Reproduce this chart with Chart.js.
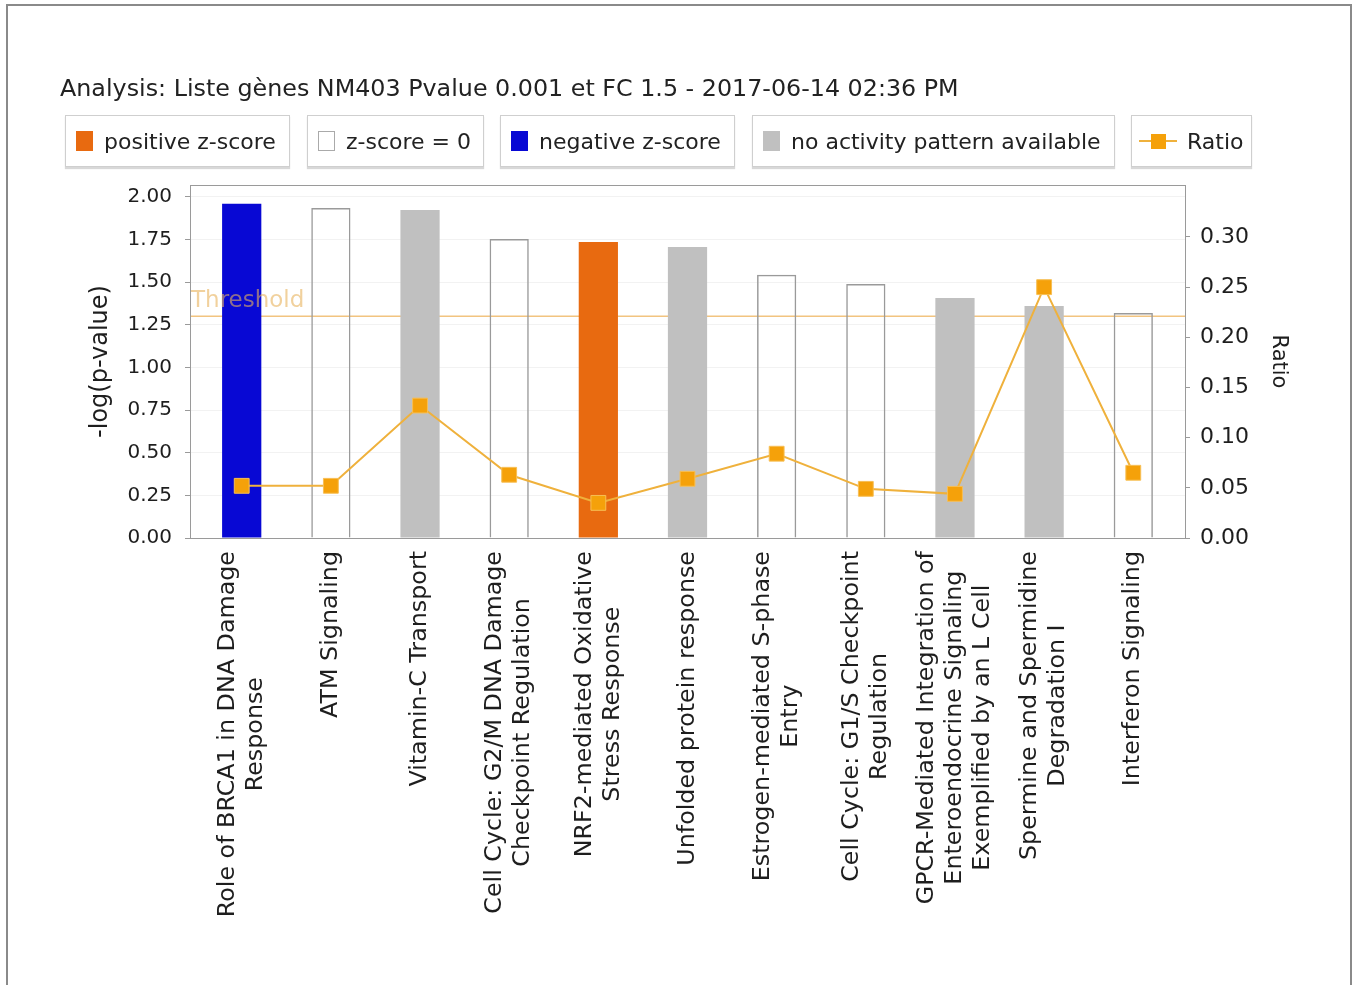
<!DOCTYPE html>
<html><head><meta charset="utf-8">
<script src="https://cdn.jsdelivr.net/npm/chart.js@4.4.1/dist/chart.umd.min.js"></script>
<style>
html,body{margin:0;padding:0;background:#fff;}
#wrap{position:relative;width:1359px;height:985px;overflow:hidden;font-family:"DejaVu Sans",sans-serif;color:#222;}
#frame{position:absolute;left:6px;top:4px;width:1346px;height:1010px;border:2px solid #8a8a8a;box-sizing:border-box;}
#c{position:absolute;left:0;top:0;}
#title{position:absolute;left:60px;top:75px;font-size:23.8px;white-space:nowrap;line-height:26px;}
.lg{position:absolute;top:115px;height:52px;border:1px solid #cfcfcf;box-shadow:0 2px 1px #d8d8d8;box-sizing:border-box;display:flex;align-items:center;font-size:22px;white-space:nowrap;background:#fff;}
.sw{display:inline-block;width:17px;height:20px;margin-left:10px;margin-right:11px;box-sizing:border-box;}
.ri{position:relative;display:inline-block;width:38px;height:20px;margin-left:7px;margin-right:10px;}
.ri .ln{position:absolute;left:0;top:9px;width:38px;height:2px;background:#efb13c;}
.ri .sq{position:absolute;left:12px;top:3px;width:15px;height:15px;background:#f5a10a;}
</style></head>
<body>
<div id="wrap">
<div id="frame"></div>
<canvas id="c" width="1359" height="985"></canvas>
<div id="title">Analysis: Liste gènes NM403 Pvalue 0.001 et FC 1.5 - 2017-06-14 02:36 PM</div>
<div class="lg" style="left:65px;width:225px"><span class="sw" style="background:#e86a10"></span>positive z-score</div>
<div class="lg" style="left:307px;width:177px"><span class="sw" style="background:#fff;border:1px solid #aaa"></span>z-score = 0</div>
<div class="lg" style="left:500px;width:235px"><span class="sw" style="background:#0808d4"></span>negative z-score</div>
<div class="lg" style="left:752px;width:363px"><span class="sw" style="background:#c0c0c0"></span>no activity pattern available</div>
<div class="lg" style="left:1131px;width:121px"><span class="ri"><span class="ln"></span><span class="sq"></span></span>Ratio</div>
</div>
<script>
// ---- data ----
const categories = [
  ["Role of BRCA1 in DNA Damage","Response"],
  ["ATM Signaling"],
  ["Vitamin-C Transport"],
  ["Cell Cycle: G2/M DNA Damage","Checkpoint Regulation"],
  ["NRF2-mediated Oxidative","Stress Response"],
  ["Unfolded protein response"],
  ["Estrogen-mediated S-phase","Entry"],
  ["Cell Cycle: G1/S Checkpoint","Regulation"],
  ["GPCR-Mediated Integration of","Enteroendocrine Signaling","Exemplified by an L Cell"],
  ["Spermine and Spermidine","Degradation I"],
  ["Interferon Signaling"]
];
const negLogP = [1.96, 1.935, 1.924, 1.754, 1.736, 1.707, 1.543, 1.49, 1.408, 1.36, 1.32];
const ratio = [0.052, 0.052, 0.132, 0.063, 0.035, 0.059, 0.084, 0.049, 0.044, 0.250, 0.065];
const zScoreClass = ["neg","zero","na","zero","pos","na","zero","zero","na","na","zero"];
const threshold = 1.3;
const leftTicks = [0,0.25,0.5,0.75,1,1.25,1.5,1.75,2];
const rightTicks = [0,0.05,0.1,0.15,0.2,0.25,0.3];

const fillFor = {pos:"#e86a10", neg:"#0808d4", na:"#c0c0c0", zero:"rgba(255,255,255,0)"};
const borderFor = {pos:"#e86a10", neg:"#3a3ae0", na:"#c0c0c0", zero:"#9a9a9a"};

const FONT = "'DejaVu Sans', sans-serif";

const thresholdPlugin = {
  id: 'thresholdLine',
  beforeDatasetsDraw(chart) {
    const {ctx, chartArea: a, scales: {y}} = chart;
    const py = y.getPixelForValue(threshold);
    ctx.save();
    ctx.strokeStyle = '#f2c480';
    ctx.lineWidth = 1.5;
    ctx.beginPath(); ctx.moveTo(a.left, py); ctx.lineTo(a.right, py); ctx.stroke();
    ctx.restore();
  },
  afterDatasetsDraw(chart) {
    const {ctx, chartArea: a, scales: {y}} = chart;
    const py = y.getPixelForValue(threshold);
    ctx.save();
    ctx.fillStyle = 'rgba(232,178,92,0.6)';
    ctx.font = "23px " + FONT;
    ctx.textAlign = 'left'; ctx.textBaseline = 'alphabetic';
    ctx.fillText('Threshold', a.left + 1, py - 9);
    ctx.restore();
  },
  afterDraw(chart) {
    const {ctx, chartArea: a, scales: {x}} = chart;
    ctx.save();
    ctx.strokeStyle = '#9a9a9a'; ctx.lineWidth = 1;
    ctx.strokeRect(a.left + 0.5, a.top + 0.5, a.right - a.left, a.bottom - a.top);
    // category labels, centred multi-line blocks rotated -90deg
    ctx.font = "23.8px " + FONT;
    ctx.fillStyle = '#1e1e1e';
    ctx.textAlign = 'center'; ctx.textBaseline = 'middle';
    const top = a.bottom + 13, lh = 28;
    categories.forEach((lines, i) => {
      const cx = x.getPixelForValue(i);
      const maxW = Math.max(...lines.map(l => ctx.measureText(l).width));
      ctx.save();
      ctx.translate(cx, top);
      ctx.rotate(-Math.PI / 2);
      lines.forEach((l, j) => {
        ctx.fillText(l, -maxW / 2, (j - (lines.length - 1) / 2) * lh);
      });
      ctx.restore();
    });
    ctx.restore();
  }
};

new Chart(document.getElementById('c'), {
  type: 'bar',
  data: {
    datasets: [
      {
        type: 'line',
        label: 'Ratio',
        data: ratio.map((v, i) => ({x: i, y: v})),
        yAxisID: 'y1',
        order: 1,
        borderColor: '#efb13c',
        borderWidth: 2,
        pointStyle: 'rect',
        pointRadius: 10.5,
        pointBackgroundColor: '#f5a10a',
        pointBorderColor: '#f7bf55',
        pointBorderWidth: 1,
        tension: 0
      },
      {
        type: 'bar',
        label: '-log(p-value)',
        data: negLogP.map((v, i) => ({x: i, y: v})),
        yAxisID: 'y',
        order: 2,
        backgroundColor: zScoreClass.map(c => fillFor[c]),
        borderColor: zScoreClass.map(c => borderFor[c]),
        borderWidth: zScoreClass.map(c => c === 'zero' ? 1.5 : 0),
        barPercentage: 0.44,
        categoryPercentage: 1.0
      }
    ]
  },
  options: {
    responsive: false,
    animation: false,
    layout: {padding: {left: 82, right: 64, top: 185, bottom: 0}},
    plugins: {legend: {display: false}, tooltip: {enabled: false}, title: {display: false}},
    scales: {
      x: {
        type: 'linear', min: -0.58, max: 10.58, offset: false,
        ticks: {display: false},
        grid: {display: false},
        border: {display: true, color: '#9a9a9a'},
        afterFit(s) { s.height = 447; }
      },
      y: {
        position: 'left', min: 0, max: 2.07,
        afterBuildTicks(s) { s.ticks = leftTicks.map(v => ({value: v})); },
        ticks: {callback: v => v.toFixed(2), font: {family: FONT, size: 20}, color: '#1e1e1e', padding: 13},
        grid: {color: 'rgba(0,0,0,0.05)', tickColor: '#9a9a9a', tickLength: 5},
        border: {color: '#9a9a9a'},
        title: {display: true, text: '-log(p-value)', font: {family: FONT, size: 24}, color: '#1e1e1e', padding: {top: 4, bottom: 4}},
        afterFit(s) { s.width = 108; }
      },
      y1: {
        position: 'right', min: 0, max: 0.3518,
        afterBuildTicks(s) { s.ticks = rightTicks.map(v => ({value: v})); },
        ticks: {callback: v => v.toFixed(2), font: {family: FONT, size: 22}, color: '#1e1e1e', padding: 10},
        grid: {drawOnChartArea: false, tickColor: '#9a9a9a', tickLength: 5},
        border: {color: '#9a9a9a'},
        title: {display: true, text: 'Ratio', font: {family: FONT, size: 21}, color: '#1e1e1e', padding: {top: 4, bottom: 4}},
        afterFit(s) { s.width = 110; }
      }
    }
  },
  plugins: [thresholdPlugin]
});
</script>
</body></html>
